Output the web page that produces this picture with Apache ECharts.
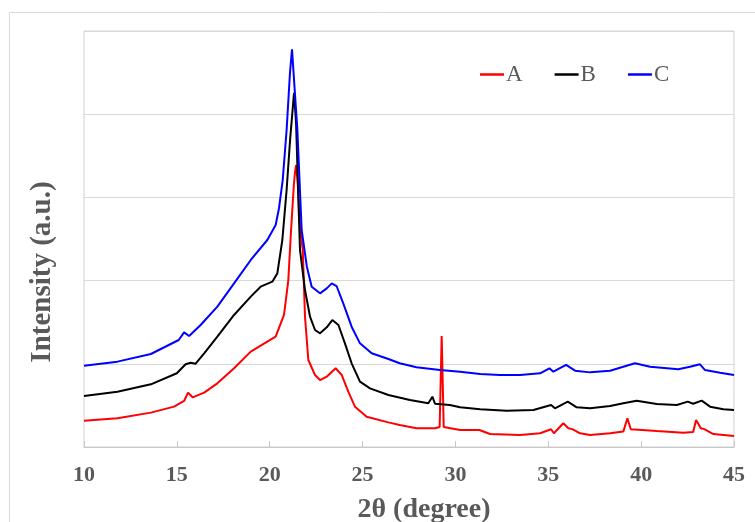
<!DOCTYPE html>
<html>
<head>
<meta charset="utf-8">
<script src="https://cdn.jsdelivr.net/npm/echarts@6/dist/echarts.min.js"></script>
<style>
html,body{margin:0;padding:0;background:#fff;}
#chart{width:755px;height:522px;}
</style>
</head>
<body>
<div id="chart"></div>
<script>
// ---- data (2θ in degrees, intensity in arbitrary units) ----
var seriesNames = ['A', 'B', 'C'];
var xTicks = [10, 15, 20, 25, 30, 35, 40, 45];

var xA = [10, 11.8, 13.6, 14.85, 15.39, 15.6, 15.85, 16.47, 17.18, 18.08, 18.98, 19.87, 20.32, 20.77, 21.0, 21.15, 21.3, 21.36, 21.42, 21.5, 21.64, 21.78, 21.9, 22.08, 22.44, 22.71, 23.07, 23.55, 23.88, 24.23, 24.59, 25.22, 26.39, 27.0, 27.9, 28.9, 29.15, 29.26, 29.37, 29.44, 30.25, 31.29, 31.86, 33.48, 34.56, 35.15, 35.3, 35.81, 36.08, 36.3, 36.71, 37.25, 38.33, 39.04, 39.26, 39.44, 40.84, 42.27, 42.8, 42.96, 43.21, 43.4, 43.89, 45];
var yA = [316, 345, 413, 485, 553, 653, 597, 653, 765, 946, 1146, 1266, 1326, 1587, 2000, 2608, 3150, 3300, 3389, 3200, 2608, 2368, 1566, 1046, 865, 805, 845, 946, 865, 665, 485, 364, 296, 264, 225, 225, 240, 1334, 240, 244, 204, 204, 156, 144, 165, 213, 165, 285, 225, 215, 165, 144, 165, 185, 345, 213, 192, 172, 180, 325, 225, 215, 156, 132];

var xB = [10, 11.8, 13.6, 15.0, 15.47, 15.74, 16.0, 16.47, 17.18, 18.08, 18.98, 19.51, 20.14, 20.41, 20.68, 20.91, 21.1, 21.31, 21.42, 21.54, 21.63, 21.9, 22.17, 22.44, 22.71, 23.07, 23.37, 23.7, 24.05, 24.41, 24.86, 25.4, 26.39, 27.55, 28.54, 28.76, 28.9, 29.7, 30.25, 31.33, 32.76, 34.2, 35.15, 35.36, 36.05, 36.53, 37.25, 38.33, 39.04, 39.76, 40.84, 41.92, 42.51, 42.8, 43.26, 43.71, 44.43, 45];
var yB = [613, 665, 753, 886, 994, 1013, 1000, 1126, 1326, 1587, 1807, 1927, 1987, 2087, 2488, 3089, 3700, 4258, 3891, 3008, 2368, 1887, 1566, 1406, 1366, 1438, 1526, 1466, 1246, 1006, 785, 705, 625, 565, 525, 605, 520, 505, 477, 453, 436, 445, 505, 465, 545, 477, 465, 493, 525, 557, 517, 505, 545, 520, 557, 485, 453, 445];

var xC = [10, 11.8, 13.6, 15.1, 15.39, 15.66, 16.28, 17.18, 18.08, 18.98, 19.87, 20.32, 20.5, 20.7, 20.91, 21.09, 21.2, 21.3, 21.49, 21.72, 22.0, 22.26, 22.71, 23.07, 23.34, 23.6, 23.96, 24.41, 24.86, 25.49, 26.39, 27.0, 27.9, 29.17, 30.25, 31.33, 32.4, 33.48, 34.56, 35.06, 35.27, 35.96, 36.44, 37.25, 38.33, 39.04, 39.67, 40.48, 42.0, 42.63, 43.17, 43.44, 44.25, 45];
var yC = [977, 1026, 1118, 1286, 1378, 1334, 1466, 1687, 1967, 2248, 2488, 2668, 2870, 3209, 3810, 4495, 4780, 4760, 3810, 2608, 2167, 1927, 1847, 1907, 1967, 1935, 1727, 1446, 1246, 1126, 1058, 1006, 958, 925, 905, 877, 865, 865, 885, 946, 905, 986, 917, 897, 917, 965, 1006, 965, 934, 965, 994, 925, 893, 865];

var colors = ['#FF0000', '#000000', '#0000FF'];

function zip(xs, ys) {
  var out = [];
  for (var i = 0; i < xs.length; i++) out.push([xs[i], ys[i]]);
  return out;
}

var chart = echarts.init(document.getElementById('chart'), null, {renderer: 'canvas'});
var serif = '"Liberation Serif", "Times New Roman", serif';
var textColor = '#595959';

var option = {
  animation: false,
  backgroundColor: '#ffffff',
  grid: {
    left: 84, right: 21, top: 31, bottom: 75,
    show: true, borderColor: '#d0d0d0', borderWidth: 1
  },
  legend: {
    data: seriesNames,
    left: 475, top: 58,
    icon: 'rect',
    itemWidth: 24, itemHeight: 2.5,
    itemGap: 32,
    textStyle: {fontFamily: serif, fontSize: 23, color: textColor, padding: [0, 0, 0, -3]}
  },
  xAxis: {
    type: 'value', min: 10, max: 45, interval: 5,
    axisLine: {show: true, lineStyle: {color: '#c8c8c8', width: 1}},
    axisTick: {show: true, inside: true, length: 6, lineStyle: {color: '#c8c8c8'}},
    splitLine: {show: false},
    axisLabel: {
      margin: 17, fontFamily: serif, fontSize: 22, fontWeight: 'bold', color: textColor,
      formatter: function (v) { return xTicks.indexOf(v) >= 0 ? String(v) : ''; }
    }
  },
  yAxis: {
    type: 'value', min: 0, max: 5000, interval: 1000,
    axisLine: {show: false}, axisTick: {show: false}, axisLabel: {show: false},
    splitLine: {show: true, lineStyle: {color: '#d9d9d9', width: 1}}
  },
  graphic: [
    {type: 'rect', shape: {x: 9.5, y: 12.5, width: 800, height: 600}, style: {fill: 'none', stroke: '#d9d9d9', lineWidth: 1}, z: -10},
    {type: 'text', style: {text: '2θ (degree)', font: 'bold 28px ' + serif, fill: textColor, textAlign: 'center', textVerticalAlign: 'middle'}, x: 424, y: 510, z: 10},
    {type: 'text', style: {text: 'Intensity (a.u.)', font: 'bold 29px ' + serif, fill: textColor, textAlign: 'center', textVerticalAlign: 'middle'}, x: 43, y: 272, rotation: Math.PI / 2, z: 10}
  ],
  series: [
    {name: 'A', type: 'line', data: zip(xA, yA), showSymbol: false, symbol: 'none', lineStyle: {color: colors[0], width: 2}, itemStyle: {color: colors[0]}},
    {name: 'B', type: 'line', data: zip(xB, yB), showSymbol: false, symbol: 'none', lineStyle: {color: colors[1], width: 2}, itemStyle: {color: colors[1]}},
    {name: 'C', type: 'line', data: zip(xC, yC), showSymbol: false, symbol: 'none', lineStyle: {color: colors[2], width: 2}, itemStyle: {color: colors[2]}}
  ]
};
chart.setOption(option);
</script>
</body>
</html>
